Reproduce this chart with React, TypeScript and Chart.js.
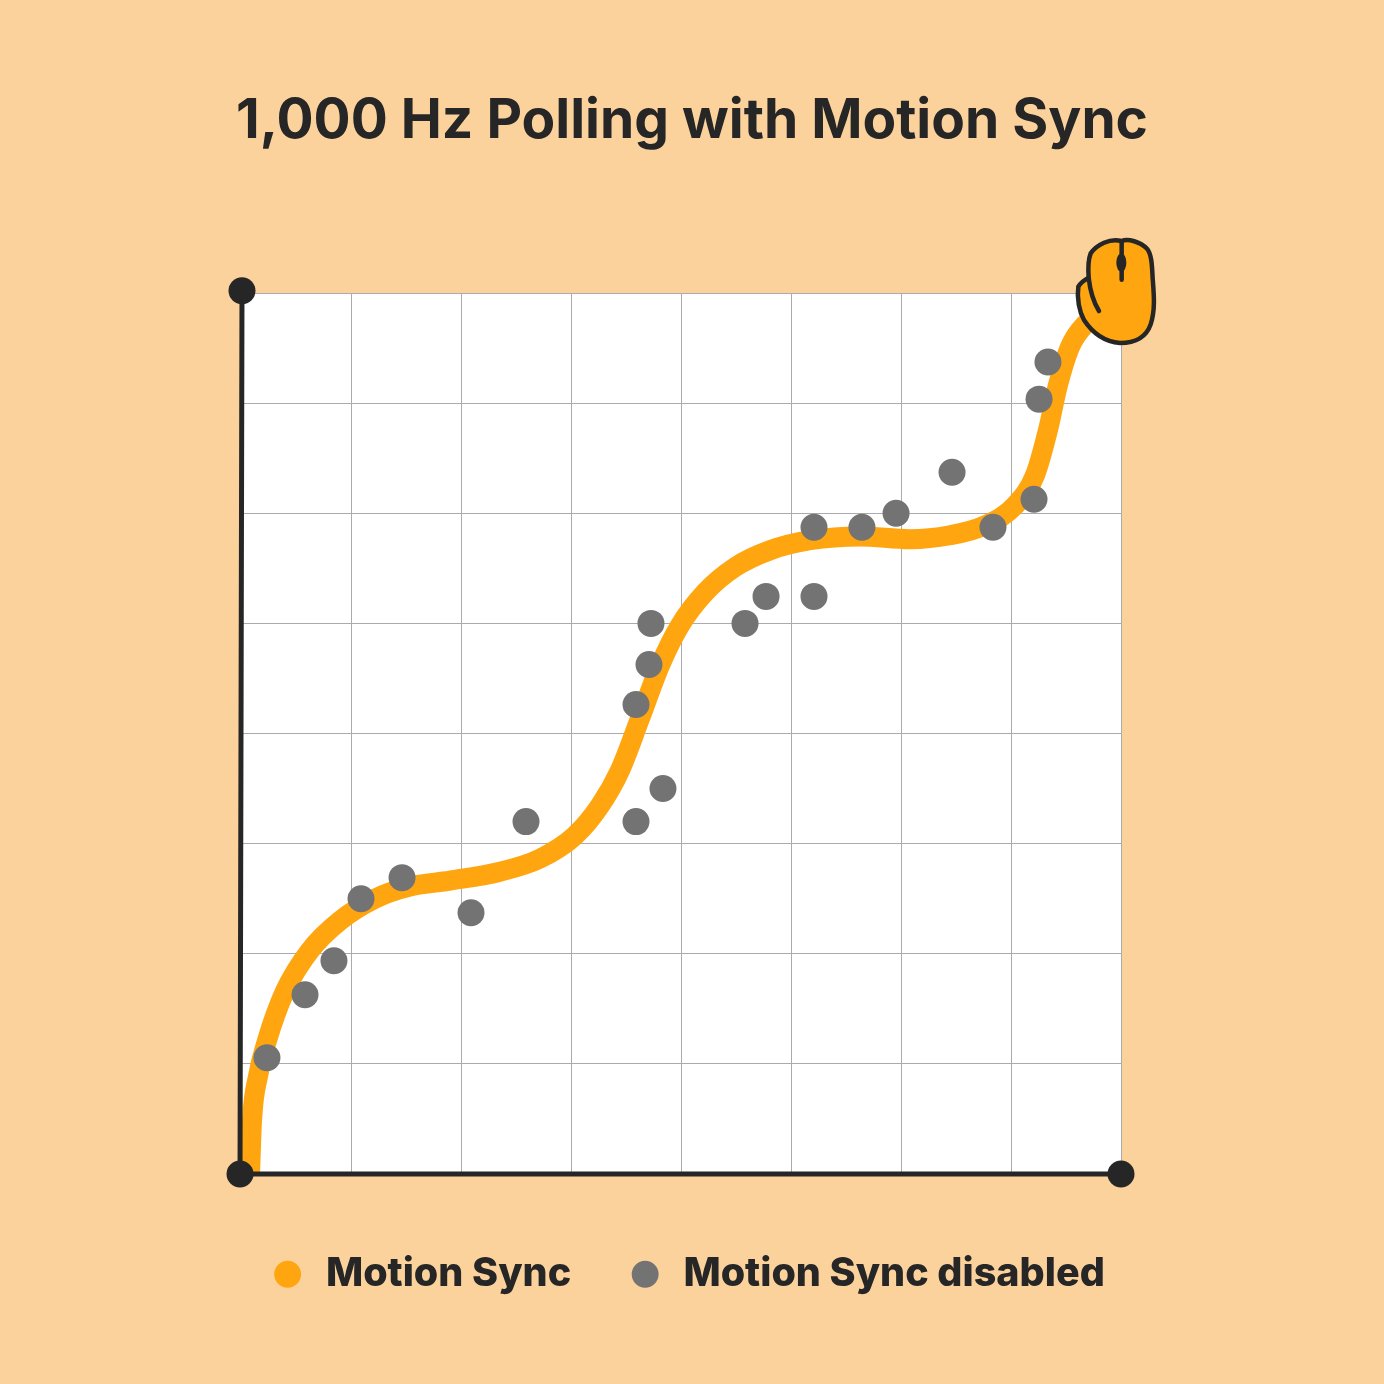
import React, { useEffect, useRef } from "react";
import { Chart, registerables } from "chart.js";

Chart.register(...registerables);

const TITLE = "1,000 Hz Polling with Motion Sync";
const SYNC_LABEL = "Motion Sync";
const DISABLED_LABEL = "Motion Sync disabled";
const AXIS_LABEL = "Axes";

const syncX = [0.082, 0.1, 0.155, 0.236, 0.4, 0.627, 0.9, 1.218, 1.536, 1.9, 2.355, 2.718, 3.036, 3.264, 3.445, 3.627, 3.809, 3.99, 4.218, 4.49, 4.81, 5.173, 5.627, 6.08, 6.445, 6.764, 7.036, 7.218, 7.336, 7.427, 7.536, 7.67, 7.81];
const syncY = [0, 0.48, 0.89, 1.21, 1.66, 2.03, 2.3, 2.5, 2.61, 2.664, 2.745, 2.864, 3.073, 3.345, 3.664, 4.136, 4.618, 4.98, 5.28, 5.51, 5.664, 5.755, 5.79, 5.764, 5.8, 5.89, 6.07, 6.345, 6.755, 7.164, 7.51, 7.71, 7.8];

const disabledX = [0.236, 0.582, 0.845, 1.091, 1.464, 2.091, 2.591, 3.591, 3.836, 3.591, 3.709, 3.727, 4.582, 4.773, 5.209, 5.209, 5.645, 5.955, 6.464, 6.836, 7.209, 7.255, 7.336];
const disabledY = [1.055, 1.627, 1.936, 2.5, 2.691, 2.373, 3.2, 3.2, 3.5, 4.264, 4.627, 5, 5, 5.245, 5.245, 5.873, 5.873, 6, 6.373, 5.873, 6.127, 7.036, 7.373];

const axisX = [0.009, -0.009, 8];
const axisY = [8.02, 0, 0];

const ORANGE = "#FFA50F";
const GRAY = "#737373";
const DARK = "#262626";
const PEACH = "#FCD29C";
const GRID = "#ABABAB";

const zip = (xs: number[], ys: number[]) => xs.map((x, i) => ({ x, y: ys[i] }));

const areaBackground = {
  id: "areaBackground",
  beforeDraw(chart: any) {
    const { ctx, chartArea: a } = chart;
    ctx.save();
    ctx.fillStyle = "#FFFFFF";
    ctx.fillRect(a.left, a.top, a.right - a.left, a.bottom - a.top);
    ctx.restore();
  },
};

const legendNudge = {
  id: "legendNudge",
  afterLayout(chart: any) {
    chart.legend.left -= 5;
    chart.legend.right -= 5;
  },
};

const mouseIcon = {
  id: "mouseIcon",
  afterDraw(chart: any) {
    const { ctx, scales } = chart;
    const ax = scales.x.getPixelForValue(8);
    const ay = scales.y.getPixelForValue(8);
    ctx.save();
    ctx.translate(ax - 61, ay - 68);
    ctx.scale(1 / 3, 1 / 3);
    ctx.lineWidth = 13.5;
    ctx.lineJoin = "round";
    ctx.lineCap = "round";
    ctx.strokeStyle = DARK;
    ctx.fillStyle = ORANGE;
    ctx.beginPath();
    ctx.moveTo(184, 48);
    ctx.bezierCurveTo(205, 40, 240, 50, 262, 72);
    ctx.bezierCurveTo(275, 90, 276, 120, 278, 160);
    ctx.bezierCurveTo(282, 210, 286, 255, 272, 298);
    ctx.bezierCurveTo(258, 338, 222, 354, 180, 354);
    ctx.bezierCurveTo(130, 350, 95, 320, 72, 285);
    ctx.bezierCurveTo(58, 260, 50, 220, 55, 185);
    ctx.bezierCurveTo(62, 172, 75, 165, 86, 158);
    ctx.bezierCurveTo(84, 130, 84, 105, 92, 85);
    ctx.bezierCurveTo(110, 60, 150, 38, 184, 48);
    ctx.closePath();
    ctx.fill();
    ctx.stroke();
    ctx.beginPath();
    ctx.moveTo(86, 158);
    ctx.bezierCurveTo(90, 195, 100, 230, 117, 258);
    ctx.stroke();
    ctx.beginPath();
    ctx.moveTo(185, 50);
    ctx.lineTo(185, 164);
    ctx.stroke();
    ctx.fillStyle = DARK;
    ctx.beginPath();
    ctx.ellipse(184, 113, 15, 28, 0, 0, Math.PI * 2);
    ctx.fill();
    ctx.restore();
  },
};

export default function App() {
  const ref = useRef<HTMLCanvasElement | null>(null);

  useEffect(() => {
    if (!ref.current) return;
    const chart = new Chart(ref.current, {
      type: "scatter",
      data: {
        datasets: [
          {
            label: SYNC_LABEL,
            data: zip(syncX, syncY),
            showLine: true,
            borderColor: ORANGE,
            backgroundColor: ORANGE,
            borderWidth: 20,
            pointRadius: 0,
            cubicInterpolationMode: "monotone",
            clip: 0,
            order: 3,
          },
          {
            label: DISABLED_LABEL,
            data: zip(disabledX, disabledY),
            showLine: false,
            backgroundColor: GRAY,
            borderColor: GRAY,
            pointRadius: 13.5,
            pointBorderWidth: 0,
            order: 2,
          },
          {
            label: AXIS_LABEL,
            data: zip(axisX, axisY),
            showLine: true,
            borderColor: DARK,
            backgroundColor: DARK,
            borderWidth: 5,
            pointRadius: 13.5,
            pointBorderWidth: 0,
            tension: 0,
            clip: false,
            order: 1,
          },
        ],
      } as any,
      options: {
        responsive: false,
        animation: false,
        events: [],
        layout: { padding: { top: 0, left: 0, right: 0, bottom: 80 } },
        scales: {
          x: {
            type: "linear",
            min: 0,
            max: 8,
            afterFit: (s: any) => { s.height = 25; },
            border: { display: false },
            grid: { color: GRID, lineWidth: 1, drawTicks: false },
            ticks: { display: false, stepSize: 1 },
          },
          y: {
            type: "linear",
            min: 0,
            max: 8,
            position: "left",
            afterFit: (s: any) => { s.width = 241; },
            border: { display: false },
            grid: { color: GRID, lineWidth: 1, drawTicks: false },
            ticks: { display: false, stepSize: 1 },
          },
          yRight: {
            type: "linear",
            position: "right",
            min: 0,
            max: 8,
            afterFit: (s: any) => { s.width = 263; },
            border: { display: false },
            grid: { display: false, drawTicks: false },
            ticks: { display: false },
          },
        },
        plugins: {
          tooltip: { enabled: false },
          title: {
            display: true,
            text: TITLE,
            color: DARK,
            font: { family: "Inter", size: 55, weight: "700", lineHeight: 1.2 },
            padding: { top: 88, bottom: 139 },
          },
          legend: {
            display: true,
            position: "bottom",
            labels: {
              color: DARK,
              font: { family: "Inter", size: 39.5, weight: "800" },
              usePointStyle: true,
              pointStyle: "circle",
              boxHeight: 19,
              boxWidth: 37,
              padding: 55.5,
              generateLabels: (c: any) =>
                c.data.datasets
                  .map((d: any, i: number) => ({
                    text: d.label,
                    fillStyle: d.backgroundColor,
                    strokeStyle: d.backgroundColor,
                    lineWidth: 0,
                    pointStyle: "circle",
                    fontColor: DARK,
                    datasetIndex: i,
                    hidden: false,
                  }))
                  .filter((it: any) => it.text !== AXIS_LABEL),
            },
          },
        },
      } as any,
      plugins: [areaBackground, legendNudge, mouseIcon],
    });
    return () => chart.destroy();
  }, []);

  return (
    <canvas
      ref={ref}
      width={1384}
      height={1384}
      style={{ position: "absolute", left: 0, top: 0, display: "block", background: PEACH }}
    />
  );
}
